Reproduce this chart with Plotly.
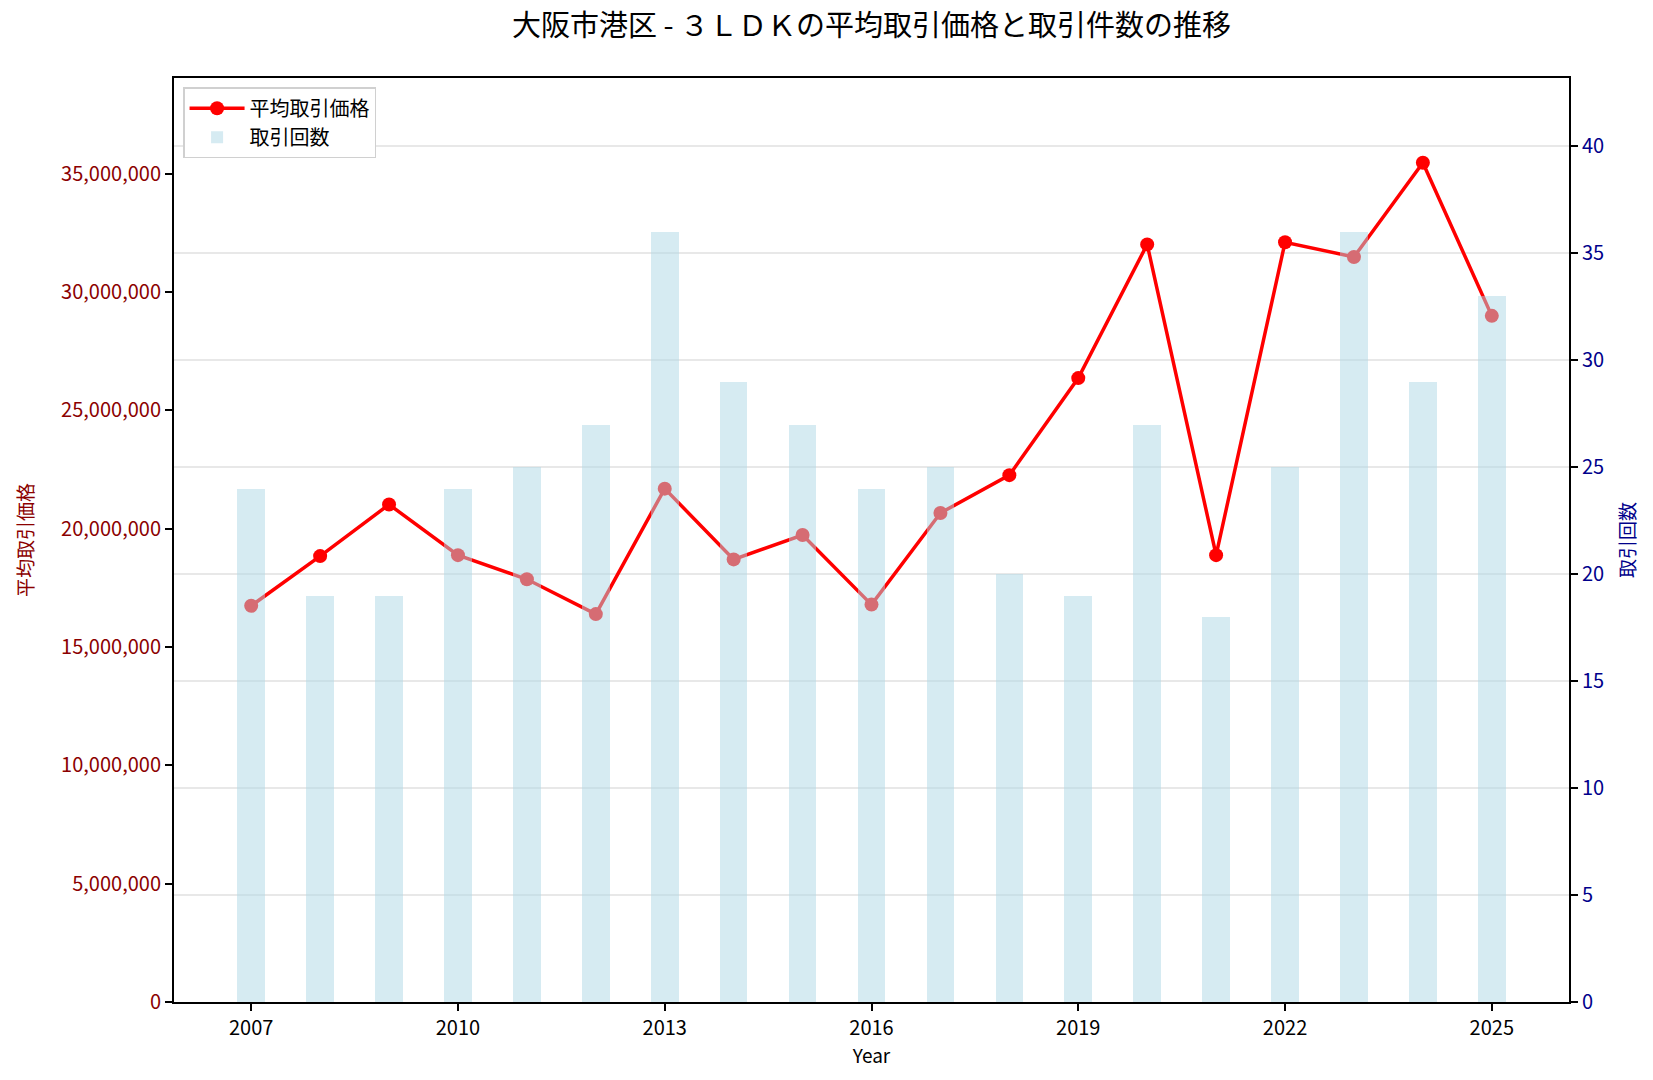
import plotly.graph_objects as go

years = list(range(2007, 2026))
avg_price = [16740000, 18840000, 21020000, 18880000, 17860000, 16390000, 21690000,
             18700000, 19730000, 16790000, 20660000, 22260000, 26360000, 32010000,
             18880000, 32100000, 31480000, 35460000, 28990000]
counts = [24, 19, 19, 24, 25, 27, 36, 29, 27, 24, 25, 20, 19, 27, 18, 25, 36, 29, 33]

title_text = "大阪市港区 - ３ＬＤＫの平均取引価格と取引件数の推移"
price_label = "平均取引価格"
count_label = "取引回数"

FONT = "Noto Sans CJK JP"
DARKRED = "#8B0000"
DARKBLUE = "#00008B"

fig = go.Figure()
fig.add_trace(go.Scatter(
    x=years, y=avg_price, mode="lines+markers", name=price_label,
    line=dict(color="red", width=3.5), marker=dict(color="red", size=14),
    yaxis="y"))
fig.add_trace(go.Bar(
    x=years, y=counts, name=count_label, width=0.4,
    marker=dict(color="rgba(173,216,230,0.5)", line=dict(width=0)),
    yaxis="y2"))

fig.update_layout(
    width=1653, height=1080,
    margin=dict(l=174, r=84, t=78, b=78),
    paper_bgcolor="white", plot_bgcolor="white",
    font=dict(family=FONT, size=20, color="black"),
    title=dict(text=title_text, x=871.5 / 1653, xanchor="center",
               y=1 - 26 / 1080, yanchor="middle", yref="container",
               font=dict(size=29, color="black", family=FONT)),
    showlegend=True,
    legend=dict(x=0.0065, y=0.99, xanchor="left", yanchor="top",
                bgcolor="white", bordercolor="#d0d0d0", borderwidth=1.5,
                font=dict(size=20), tracegroupgap=0, itemwidth=55),
    xaxis=dict(range=[2005.88, 2026.12], tickmode="array",
               tickvals=list(range(2007, 2026, 3)),
               showline=True, linecolor="black", linewidth=2, mirror=True,
               ticks="outside", ticklen=7, tickwidth=1.6, tickcolor="black",
               showgrid=False, zeroline=False,
               title=dict(text="Year", font=dict(size=19), standoff=8),
               tickfont=dict(size=20, color="black")),
    yaxis=dict(range=[0, 39040000], tickmode="array",
               tickvals=[0, 5e6, 10e6, 15e6, 20e6, 25e6, 30e6, 35e6],
               tickformat=",d",
               showline=True, linecolor="black", linewidth=2,
               ticks="outside", ticklen=7, tickwidth=1.6, tickcolor="black",
               showgrid=False, zeroline=False,
               tickfont=dict(size=20, color=DARKRED),
               title=dict(text=price_label, font=dict(size=19, color=DARKRED), standoff=22)),
    yaxis2=dict(range=[0, 43.2], overlaying="y", side="right", dtick=5, tick0=0,
                showline=True, linecolor="black", linewidth=2,
                ticks="outside", ticklen=7, tickwidth=1.6, tickcolor="black",
                showgrid=True, gridcolor="rgba(210,210,210,0.5)", gridwidth=2,
                zeroline=False,
                tickfont=dict(size=20, color=DARKBLUE),
                title=dict(text=count_label, font=dict(size=19, color=DARKBLUE), standoff=18)),
    bargap=0,
)

fig.write_html("out.html")
